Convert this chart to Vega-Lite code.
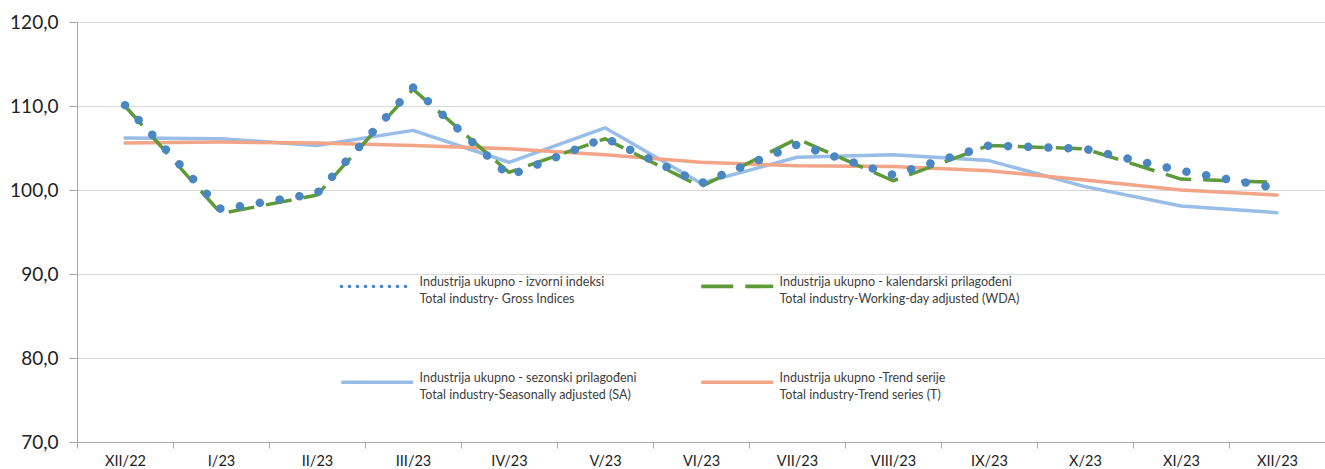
{
  "$schema": "https://vega.github.io/schema/vega-lite/v6.json",
  "width": 1248,
  "height": 420,
  "autosize": {"type": "none"},
  "padding": {"left": 77, "top": 22, "right": 0, "bottom": 27},
  "background": "white",
  "config": {"view": {"stroke": null}, "font": "Lato"},
  "data": {
    "values": [
      {"month": "XII/22", "series": "S", "value": 106.2},
      {"month": "I/23", "series": "S", "value": 106.1},
      {"month": "II/23", "series": "S", "value": 105.3},
      {"month": "III/23", "series": "S", "value": 107.1},
      {"month": "IV/23", "series": "S", "value": 103.3},
      {"month": "V/23", "series": "S", "value": 107.4},
      {"month": "VI/23", "series": "S", "value": 100.8},
      {"month": "VII/23", "series": "S", "value": 103.9},
      {"month": "VIII/23", "series": "S", "value": 104.2},
      {"month": "IX/23", "series": "S", "value": 103.5},
      {"month": "X/23", "series": "S", "value": 100.4},
      {"month": "XI/23", "series": "S", "value": 98.1},
      {"month": "XII/23", "series": "S", "value": 97.3},
      {"month": "XII/22", "series": "T", "value": 105.6},
      {"month": "I/23", "series": "T", "value": 105.7},
      {"month": "II/23", "series": "T", "value": 105.6},
      {"month": "III/23", "series": "T", "value": 105.3},
      {"month": "IV/23", "series": "T", "value": 104.9},
      {"month": "V/23", "series": "T", "value": 104.2},
      {"month": "VI/23", "series": "T", "value": 103.3},
      {"month": "VII/23", "series": "T", "value": 102.9},
      {"month": "VIII/23", "series": "T", "value": 102.8},
      {"month": "IX/23", "series": "T", "value": 102.3},
      {"month": "X/23", "series": "T", "value": 101.2},
      {"month": "XI/23", "series": "T", "value": 100.0},
      {"month": "XII/23", "series": "T", "value": 99.4},
      {"month": "XII/22", "series": "W", "value": 110.0},
      {"month": "I/23", "series": "W", "value": 97.2},
      {"month": "II/23", "series": "W", "value": 99.4},
      {"month": "III/23", "series": "W", "value": 112.0},
      {"month": "IV/23", "series": "W", "value": 102.1},
      {"month": "V/23", "series": "W", "value": 106.1},
      {"month": "VI/23", "series": "W", "value": 100.4},
      {"month": "VII/23", "series": "W", "value": 106.1},
      {"month": "VIII/23", "series": "W", "value": 101.1},
      {"month": "IX/23", "series": "W", "value": 105.3},
      {"month": "X/23", "series": "W", "value": 104.9},
      {"month": "XI/23", "series": "W", "value": 101.3},
      {"month": "XII/23", "series": "W", "value": 100.9},
      {"month": "XII/22", "series": "G", "value": 110.1},
      {"month": "I/23", "series": "G", "value": 97.7},
      {"month": "II/23", "series": "G", "value": 99.6},
      {"month": "III/23", "series": "G", "value": 112.2},
      {"month": "IV/23", "series": "G", "value": 101.7},
      {"month": "V/23", "series": "G", "value": 106.2},
      {"month": "VI/23", "series": "G", "value": 100.8},
      {"month": "VII/23", "series": "G", "value": 105.4},
      {"month": "VIII/23", "series": "G", "value": 101.8},
      {"month": "IX/23", "series": "G", "value": 105.3},
      {"month": "X/23", "series": "G", "value": 104.9},
      {"month": "XI/23", "series": "G", "value": 102.3},
      {"month": "XII/23", "series": "G", "value": 100.2}
    ]
  },
  "encoding": {
    "x": {
      "field": "month",
      "type": "ordinal",
      "sort": ["XII/22", "I/23", "II/23", "III/23", "IV/23", "V/23", "VI/23", "VII/23", "VIII/23", "IX/23", "X/23", "XI/23", "XII/23"],
      "bandPosition": 0.5,
      "scale": {"type": "band", "paddingInner": 0, "paddingOuter": 0},
      "axis": {
        "title": null,
        "labelAngle": 0,
        "grid": false,
        "domainColor": "#A6A6A6",
        "tickColor": "#A6A6A6",
        "tickSize": 6,
        "tickBand": "extent",
        "labelFont": "Lato",
        "labelFontSize": 14.5,
        "labelColor": "#222222",
        "labelPadding": 6
      }
    },
    "y": {
      "field": "value",
      "type": "quantitative",
      "scale": {"domain": [70, 120], "nice": false, "zero": false},
      "axis": {
        "title": null,
        "values": [70, 80, 90, 100, 110, 120],
        "labelExpr": "replace(format(datum.value, '.1f'), '.', ',')",
        "labelFont": "Lato",
        "labelFontSize": 19,
        "labelColor": "#222222",
        "domainColor": "#A6A6A6",
        "tickColor": "#A6A6A6",
        "tickSize": 8,
        "labelPadding": 11,
        "grid": true,
        "gridColor": "#D9D9D9"
      }
    },
    "color": {
      "field": "series",
      "type": "nominal",
      "scale": {"domain": ["G", "W", "S", "T"], "range": ["#4A86C2", "#5E9A38", "#98BDE6", "#F2A587"]},
      "legend": {
        "orient": "none",
        "direction": "horizontal",
        "legendX": 294,
        "legendY": 258,
        "columns": 2,
        "title": null,
        "padding": 0,
        "symbolType": "stroke",
        "symbolSize": 5184,
        "symbolStrokeWidth": 3.6,
        "labelFont": "Lato",
        "labelFontSize": 12.5,
        "labelColor": "#404040",
        "labelOffset": 36,
        "labelLimit": 0,
        "labelBaseline": "alphabetic",
        "columnPadding": 57,
        "rowPadding": 66,
        "labelExpr": "datum.value == 'G' ? ['Industrija ukupno - izvorni indeksi', 'Total industry- Gross Indices'] : datum.value == 'W' ? ['Industrija ukupno - kalendarski prilagođeni', 'Total industry-Working-day adjusted (WDA)'] : datum.value == 'S' ? ['Industrija ukupno - sezonski prilagođeni', 'Total industry-Seasonally adjusted (SA)'] : ['Industrija ukupno -Trend serije', 'Total industry-Trend series (T)']",
        "encoding": {
          "symbols": {
            "strokeDash": {"value": {"expr": "datum.value == 'G' ? [0.5, 7.5] : datum.value == 'W' ? [32, 12] : [1, 0]"}},
            "strokeWidth": {"value": {"expr": "datum.value == 'G' ? 3.2 : 3.6"}},
            "strokeCap": {"value": {"expr": "datum.value == 'G' ? 'round' : 'butt'"}}
          },
          "labels": {
            "lineHeight": {"value": 17}
          }
        }
      }
    }
  },
  "layer": [
    {
      "transform": [{"filter": "datum.series == 'S'"}],
      "mark": {"type": "line", "strokeWidth": 3.5, "strokeCap": "round", "strokeJoin": "round"}
    },
    {
      "transform": [{"filter": "datum.series == 'T'"}],
      "mark": {"type": "line", "strokeWidth": 3.5, "strokeCap": "round", "strokeJoin": "round"}
    },
    {
      "transform": [{"filter": "datum.series == 'W'"}],
      "mark": {"type": "line", "strokeWidth": 3.5, "strokeDash": [26, 12], "strokeCap": "butt", "strokeJoin": "round"}
    },
    {
      "transform": [{"filter": "datum.series == 'G'"}],
      "mark": {"type": "line", "strokeWidth": 8.5, "strokeDash": [0.1, 20], "strokeCap": "round", "strokeJoin": "round"}
    }
  ]
}
